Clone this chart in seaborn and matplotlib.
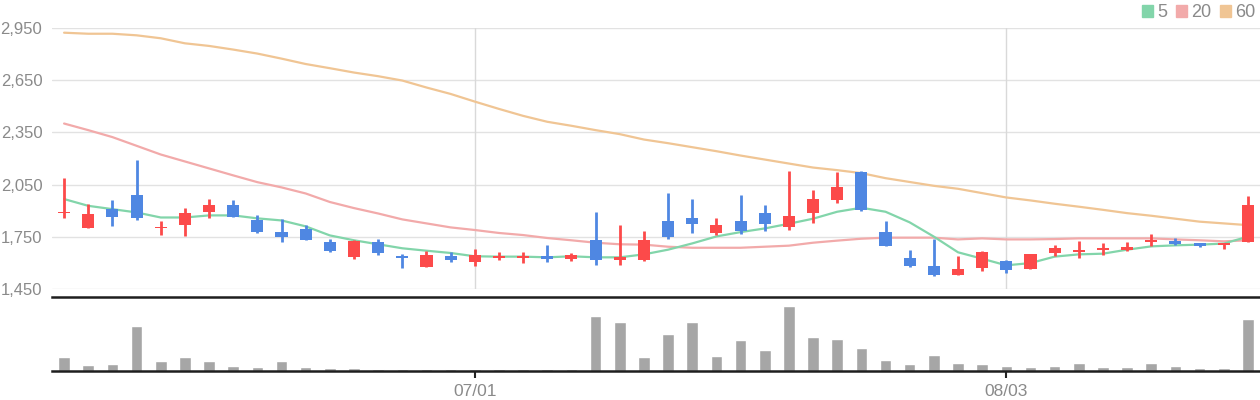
import matplotlib
matplotlib.use("Agg")
import matplotlib.pyplot as plt
from matplotlib.patches import Patch
import seaborn as sns
import numpy as np

# daily candles (price)
open_ = [1888, 1798, 1909, 1992, 1802, 1816, 1890, 1932, 1848, 1779,
         1796, 1720, 1632, 1720, 1641, 1575, 1641, 1603, 1626, 1632,
         1641, 1620, 1734, 1615, 1615, 1842, 1860, 1774, 1842, 1888,
         1808, 1888, 1963, 2124, 1779, 1630, 1584, 1532, 1573, 1613,
         1567, 1659, 1664, 1676, 1676, 1722, 1728, 1716, 1705, 1722]
close = [1892, 1881, 1861, 1856, 1806, 1886, 1932, 1861, 1775, 1747,
         1730, 1666, 1728, 1655, 1626, 1647, 1615, 1647, 1638, 1638,
         1620, 1647, 1615, 1636, 1734, 1751, 1825, 1819, 1785, 1825,
         1871, 1969, 2038, 1906, 1699, 1584, 1532, 1567, 1664, 1561,
         1653, 1687, 1670, 1682, 1693, 1728, 1711, 1699, 1716, 1934]
high = [2087, 1940, 1963, 2192, 1842, 1917, 1967, 1963, 1877, 1854,
        1819, 1739, 1734, 1739, 1653, 1670, 1664, 1682, 1664, 1664,
        1705, 1659, 1894, 1819, 1785, 2003, 1969, 1860, 1992, 1934,
        2129, 2020, 2124, 2129, 1842, 1676, 1739, 1641, 1670, 1619,
        1653, 1705, 1728, 1716, 1722, 1768, 1745, 1716, 1716, 1986]
low = [1856, 1798, 1810, 1844, 1758, 1752, 1856, 1861, 1770, 1718,
       1730, 1661, 1620, 1643, 1569, 1575, 1603, 1580, 1615, 1598,
       1603, 1609, 1586, 1586, 1609, 1739, 1774, 1762, 1768, 1785,
       1791, 1831, 1946, 1900, 1699, 1578, 1527, 1532, 1555, 1544,
       1567, 1641, 1630, 1647, 1670, 1699, 1705, 1693, 1682, 1722]

# moving averages
ma5 = [1967, 1928, 1909, 1890, 1861, 1861, 1873, 1873, 1856, 1844,
       1810, 1758, 1730, 1707, 1684, 1670, 1657, 1638, 1636, 1636,
       1632, 1638, 1632, 1632, 1649, 1676, 1712, 1752, 1777, 1798,
       1825, 1854, 1894, 1917, 1894, 1833, 1751, 1661, 1624, 1586,
       1599, 1636, 1649, 1653, 1676, 1695, 1701, 1705, 1711, 1751]
ma20 = [2401, 2363, 2323, 2273, 2223, 2183, 2143, 2103, 2064, 2034,
        1999, 1950, 1915, 1884, 1850, 1827, 1804, 1789, 1772, 1760,
        1743, 1730, 1716, 1707, 1705, 1693, 1687, 1687, 1687, 1693,
        1699, 1716, 1728, 1739, 1745, 1745, 1745, 1735, 1741, 1735,
        1735, 1737, 1741, 1741, 1741, 1741, 1735, 1730, 1724, 1730]
ma60 = [2923, 2917, 2917, 2908, 2891, 2862, 2847, 2826, 2803, 2774,
        2743, 2719, 2694, 2673, 2648, 2608, 2571, 2527, 2485, 2445,
        2411, 2388, 2363, 2340, 2309, 2288, 2265, 2242, 2217, 2194,
        2171, 2148, 2133, 2116, 2087, 2065, 2043, 2026, 2001, 1976,
        1959, 1940, 1923, 1905, 1886, 1871, 1854, 1837, 1827, 1817]

# volume (thousand shares)
volume = [42, 18, 21, 135, 30, 42, 30, 15, 12, 30,
          12, 9, 9, 6, 6, 6, 6, 6, 6, 6,
          6, 6, 165, 147, 42, 112, 147, 45, 93, 63,
          195, 102, 96, 69, 33, 21, 48, 24, 21, 15,
          12, 15, 24, 12, 12, 24, 15, 9, 9, 156]

tick_pos = [17, 39]
tick_labels = ['07/01', '08/03']
price_ticks = [1450, 1750, 2050, 2350, 2650, 2950]

UP = '#fc4a4a'
DOWN = '#4f87e2'
GREEN = '#82d5aa'
PINK = '#f2aaaa'
ORANGE = '#f0c594'
TXT = '#8a8a8a'

sns.set_theme(style='white')
plt.rcParams['font.family'] = ['Liberation Sans', 'DejaVu Sans']

fig = plt.figure(figsize=(12.6, 4), dpi=100)
W, H = 1260, 400
ax = fig.add_axes([52 / W, (H - 289) / H, (W - 52) / W, (289 - 28) / H])
axv = fig.add_axes([52 / W, (H - 371) / H, (W - 52) / W, (371 - 297) / H])

idx = np.arange(len(close))
o = np.array(open_)
c = np.array(close)

# grid
for p in price_ticks:
    ax.axhline(p, color='#e2e2e2', lw=1, zorder=0)
for t in tick_pos:
    ax.axvline(t, color='#d9d9d9', lw=1, zorder=0)

# moving averages
sns.lineplot(x=idx, y=ma60, ax=ax, color=ORANGE, lw=1.6, zorder=2)
sns.lineplot(x=idx, y=ma20, ax=ax, color=PINK, lw=1.6, zorder=2)
sns.lineplot(x=idx, y=ma5, ax=ax, color=GREEN, lw=1.6, zorder=2)

# candles
cols = np.where(c >= o, UP, DOWN)
ax.vlines(idx, low, high, colors=cols, lw=2, zorder=3)
body_h = np.maximum(np.abs(c - o), 10)
body_b = np.where(np.abs(c - o) < 10, (o + c) / 2 - 5, np.minimum(o, c))
ax.bar(idx, body_h, bottom=body_b, width=0.5, color=cols, lw=0, zorder=3)

ax.set_xlim(-0.5, len(close) - 0.5)
ax.set_ylim(1450, 2950)
ax.set_yticks(price_ticks)
ax.set_yticklabels([f'{p:,}' for p in price_ticks])
ax.set_xticks([])
ax.tick_params(axis='y', length=0, pad=7, labelsize=12, labelcolor=TXT)
ax.set_xlabel('')
ax.set_ylabel('')
for s in ax.spines.values():
    s.set_visible(False)

# volume
sns.barplot(x=idx, y=volume, ax=axv, color='#a6a6a6', width=0.48,
            saturation=1, zorder=2)
axv.set_xlim(-0.5, len(close) - 0.5)
axv.set_ylim(0, 222)
axv.set_yticks([])
axv.set_xticks(tick_pos)
axv.set_xticklabels(tick_labels)
axv.tick_params(axis='x', bottom=True, length=5, width=1.5, color='#222222',
                labelsize=12.5, labelcolor=TXT, pad=4)
axv.set_xlabel('')
axv.set_ylabel('')
for side in ['left', 'right']:
    axv.spines[side].set_visible(False)
for side in ['top', 'bottom']:
    axv.spines[side].set_color('#1e1e1e')
    axv.spines[side].set_linewidth(1.8)

# legend
handles = [Patch(color=GREEN, label='5'), Patch(color=PINK, label='20'),
           Patch(color=ORANGE, label='60')]
fig.legend(handles=handles, loc='upper right', bbox_to_anchor=(1.0095, 1.03),
           ncol=3, frameon=False, handlelength=0.62, handleheight=0.62,
           handletextpad=0.22, columnspacing=0.5, fontsize=13, labelcolor=TXT)

fig.savefig('out.png', dpi=100)
